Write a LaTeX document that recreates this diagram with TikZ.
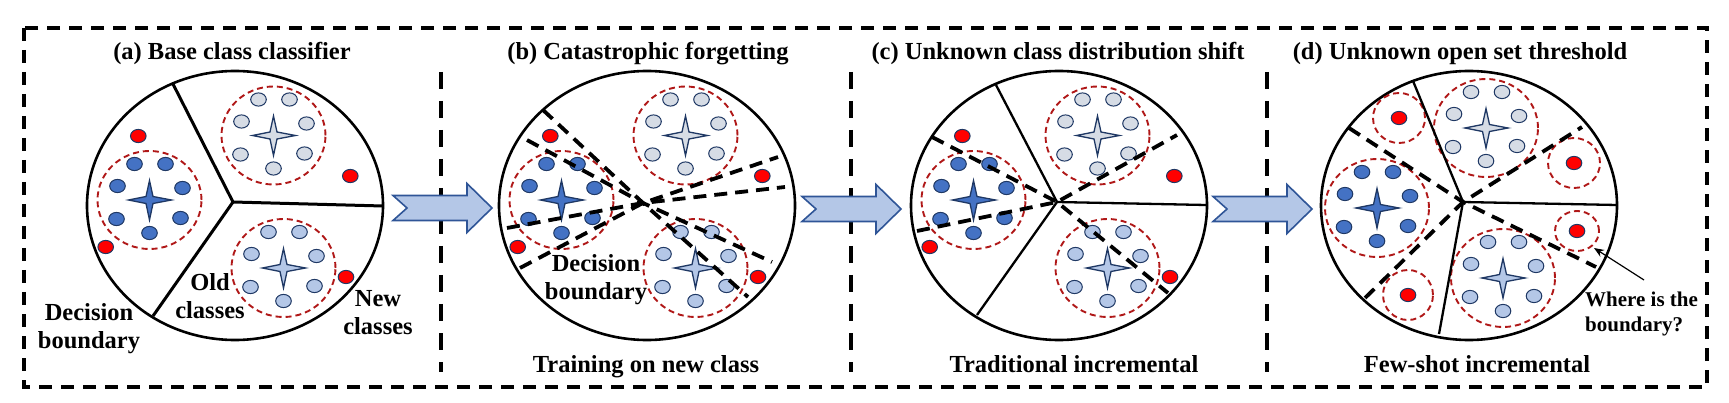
\documentclass[tikz,border=0pt]{standalone}
\usepackage{fontspec}
\setmainfont{Liberation Serif}
\usetikzlibrary{arrows.meta}
\definecolor{navy}{HTML}{1F3864}
\definecolor{dblue}{HTML}{4472C4}
\definecolor{lblue}{HTML}{B4C7E7}
\definecolor{lgray}{HTML}{D6DCE5}
\definecolor{dred}{HTML}{B01818}
\definecolor{arrowc}{HTML}{2F5597}
\tikzset{
 frame/.style={line width=3.3pt, dash pattern=on 13pt off 9pt},
 sepline/.style={line width=3.3pt, dash pattern=on 17pt off 12pt},
 disc/.style={line width=2.6pt},
 dividerA/.style={line width=3pt},
 divider/.style={line width=2.3pt},
 bnd/.style={line width=3.8pt, dash pattern=on 13pt off 8pt},
 reddash/.style={draw=dred, line width=1.9pt, dash pattern=on 6pt off 4pt},
 ptstyle/.style={draw=navy, line width=1pt},
 starst/.style={draw=navy, line width=1.3pt, line join=miter},
 lbl/.style={font=\fontsize{24.5}{28}\selectfont\bfseries, align=center, inner sep=0pt},
 slbl/.style={font=\fontsize{21}{25}\selectfont\bfseries, align=left, inner sep=0pt},
 blk/.style={draw=arrowc, fill=lblue, line width=1.6pt, line join=miter},
}
\newcommand\mycluster[3]{%
 \begin{scope}[shift={(#1,#2)}]
  \draw[reddash] (0,0) ellipse [x radius=52pt, y radius=49pt];
  \foreach \dx/\dy in {-15/-36,16/-36,-32/-14,33/-12,-33/19,31/18,0/33}
    \draw[ptstyle, fill=#3] (\dx,\dy) ellipse [x radius=7.8pt, y radius=6.6pt];
  \draw[starst, fill=#3] (-21,0) -- (-3.5,-3.5) -- (0,-19.5) -- (3.5,-3.5) -- (22,0) -- (3.5,3.5) -- (0,20) -- (-3.5,3.5) -- cycle;
 \end{scope}}
\newcommand\reddot[2]{\draw[ptstyle, fill=red] (#1,#2) ellipse [x radius=7.8pt, y radius=6.6pt];}
\newcommand\basepanel[1]{%
 \draw[disc] (#1,205.5) ellipse [x radius=148pt, y radius=134.5pt];
 \mycluster{#1-85.5}{200}{dblue}
 \mycluster{#1+38.5}{135.5}{lgray}
 \mycluster{#1+48.5}{268}{lblue}
 \reddot{#1-96.7}{136}
 \reddot{#1+115.3}{176}
 \reddot{#1-129.3}{247}
 \reddot{#1+111}{277}}
\newcommand\blockarrow[2]{%
 \begin{scope}[shift={(#1,#2)}]
  \draw[blk] (0,-12.5) -- (74,-12.5) -- (74,-24.5) -- (99,0) -- (74,24.5) -- (74,12.5) -- (0,12.5) -- (14,0) -- cycle;
 \end{scope}}
\begin{document}
\begin{tikzpicture}[x=1pt,y=-1pt]
\useasboundingbox (0,0) rectangle (1729,403);
% frame
\draw[frame] (24,28) rectangle (1707,387);
\draw[sepline] (441,72) -- (441,372);
\draw[sepline] (851,72) -- (851,372);
\draw[sepline] (1267,72) -- (1267,372);
% arrows
\blockarrow{393}{208}
\blockarrow{802}{209}
\blockarrow{1213}{209}
% panel a
\basepanel{235}
\coordinate (ja) at (233,202);
\draw[dividerA] (ja) -- (173,84);
\draw[dividerA] (ja) -- (383,206);
\draw[dividerA] (ja) -- (153,316);
% panel b
\basepanel{647}
\coordinate (jb) at (643,203);
\draw[bnd] (543,110) -- (jb) -- (748,297);
\draw[bnd] (527,140) -- (jb) -- (772,262);
\draw[bnd] (507,228) -- (jb) -- (785,187);
\draw[bnd] (520,268) -- (jb) -- (778,157);
% panel c
\basepanel{1059}
\coordinate (jc) at (1057,202);
\draw[divider] (jc) -- (996,85);
\draw[divider] (jc) -- (1206,205);
\draw[divider] (jc) -- (977,315);
\draw[bnd] (932,137) -- (jc) -- (1168,293);
\draw[bnd] (917,231) -- (jc) -- (1177,135);
% panel d
\draw[disc] (1469,205.5) ellipse [x radius=148pt, y radius=134.5pt];
\mycluster{1377}{208}{dblue}
\mycluster{1486}{128}{lgray}
\mycluster{1503}{278}{lblue}
\draw[reddash] (1399,118) ellipse [x radius=26pt, y radius=25pt];
\draw[reddash] (1574,163) ellipse [x radius=26pt, y radius=25pt];
\draw[reddash] (1577,231) ellipse [x radius=22pt, y radius=20pt];
\draw[reddash] (1408,295) ellipse [x radius=25pt, y radius=25pt];
\reddot{1399}{118}
\reddot{1574}{163}
\reddot{1577}{231}
\reddot{1408}{295}
\coordinate (jd) at (1463,202);
\draw[divider] (jd) -- (1413,81);
\draw[divider] (jd) -- (1617,205);
\draw[divider] (jd) -- (1439,334);
\draw[bnd] (1349,128) -- (jd) -- (1596,267);
\draw[bnd] (1365,298) -- (jd) -- (1582,127);
% titles
\node[lbl, anchor=base] (ta) at (232,59.5) {(a) Base class classifier};
\node[lbl, anchor=base] (tb) at (648,59.5) {(b) Catastrophic forgetting};
\node[lbl, anchor=base] (tc) at (1058,59.5) {(c) Unknown class distribution shift};
\node[lbl, anchor=base] (td) at (1460,59.5) {(d) Unknown open set threshold};
% bottom labels
\node[lbl, anchor=base] (bb) at (646,372) {Training on new class};
\node[lbl, anchor=base] (bc) at (1074,372) {Traditional incremental};
\node[lbl, anchor=base] (bd) at (1477,372) {Few-shot incremental};
% inner labels
\node[lbl] (decA) at (89,329) {Decision\\boundary};
\node[lbl] (old) at (210,296) {Old\\classes};
\node[lbl] (new) at (378,312.5) {New\\classes};
\node[lbl] (decB) at (596,280) {Decision\\boundary};
\node[slbl, anchor=west] (where) at (1585,314) {Where is the\\boundary?};
\coordinate (qtail) at (1644,280);
\coordinate (qtip) at (1594,248);
\draw[line width=1.2pt, -{Stealth[length=10pt,width=8pt]}] (qtail) -- (qtip);
\end{tikzpicture}
\end{document}
